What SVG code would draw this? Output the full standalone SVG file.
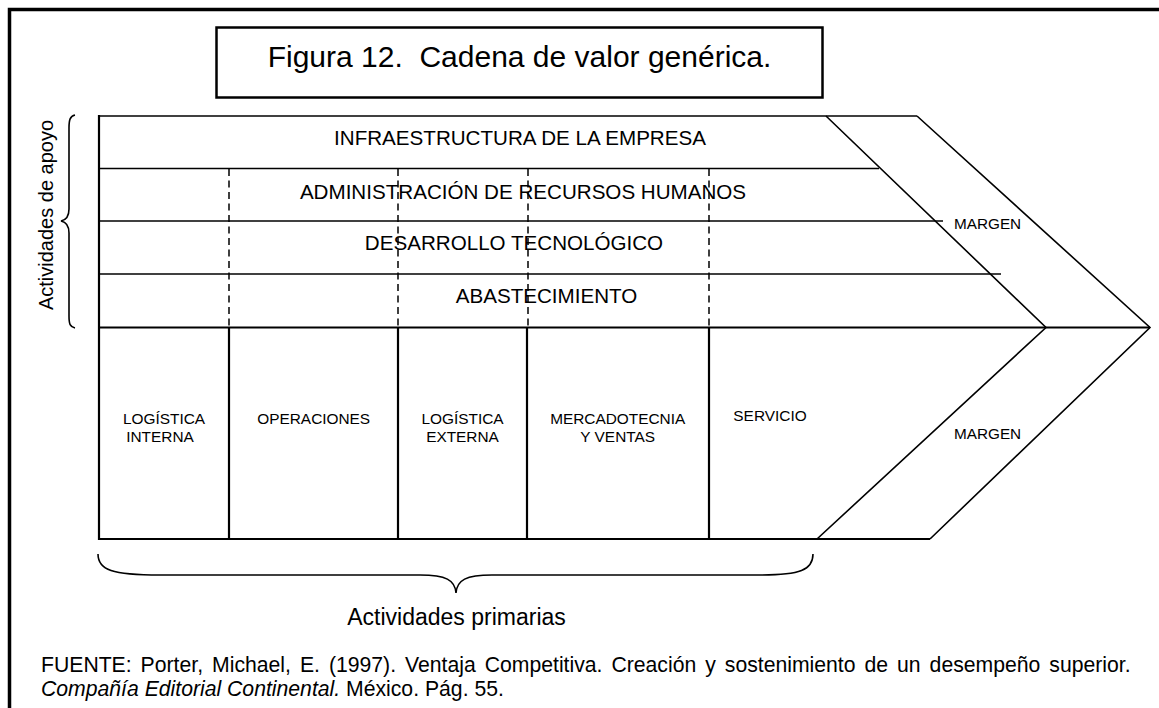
<svg xmlns="http://www.w3.org/2000/svg" width="1159" height="708" viewBox="0 0 1159 708">
<style>
  text { font-family: "Liberation Sans", Arial, sans-serif; fill: #000; }
  .row { font-size: 20.6px; text-anchor: middle; }
  .prim { font-size: 15.4px; text-anchor: middle; }
  .marg { font-size: 15.3px; }
  .src { font-size: 21.2px; }
  .ln { stroke: #000; stroke-width: 1.6; fill: none; }
  .thick { stroke: #000; stroke-width: 2.2; fill: none; }
  .dash { stroke: #000; stroke-width: 1.5; stroke-dasharray: 7 4.5; fill: none; }
</style>
<rect width="1159" height="708" fill="#fff"/>
<g id="frame">
  <path d="M9.5,720 L9.5,9.5 L1170,9.5" fill="none" stroke="#000" stroke-width="3.5"/>
</g>
<g id="title">
  <rect x="216.5" y="27.5" width="606" height="70" fill="none" stroke="#000" stroke-width="2.5"/>
  <text x="519.5" y="67" font-size="30" text-anchor="middle" xml:space="preserve">Figura 12.  Cadena de valor genérica.</text>
</g>
<g id="connectors">
  <line class="ln" x1="99" y1="116" x2="917" y2="116"/>
  <line class="ln" x1="99" y1="168.5" x2="879" y2="168.5"/>
  <line class="ln" x1="99" y1="221" x2="943" y2="221"/>
  <line class="ln" x1="99" y1="274" x2="1001" y2="274"/>
  <line class="thick" x1="99" y1="327.5" x2="1150" y2="327.5"/>
  <line class="thick" x1="99" y1="539" x2="930" y2="539"/>
  <line class="thick" x1="99" y1="115" x2="99" y2="540"/>
  <line class="dash" x1="229" y1="169" x2="229" y2="327"/>
  <line class="dash" x1="398" y1="169" x2="398" y2="327"/>
  <line class="dash" x1="528" y1="169" x2="528" y2="327"/>
  <line class="dash" x1="709" y1="169" x2="709" y2="327"/>
  <line class="thick" x1="229" y1="327" x2="229" y2="539"/>
  <line class="thick" x1="398" y1="327" x2="398" y2="539"/>
  <line class="thick" x1="527" y1="327" x2="527" y2="539"/>
  <line class="thick" x1="709" y1="327" x2="709" y2="539"/>
  <polyline class="ln" points="826,116 1046,327.5 817,539"/>
  <polyline class="ln" points="917,116 1150,327.5 930,539"/>
</g>
<g id="support-labels">
  <text class="row" x="520" y="144.5">INFRAESTRUCTURA DE LA EMPRESA</text>
  <text class="row" x="523" y="198.5">ADMINISTRACIÓN DE RECURSOS HUMANOS</text>
  <text class="row" x="514" y="249.5">DESARROLLO TECNOLÓGICO</text>
  <text class="row" x="546.5" y="302.5">ABASTECIMIENTO</text>
</g>
<g id="primary-labels">
  <text class="prim" x="164" y="423.5">LOGÍSTICA</text>
  <text class="prim" x="160" y="441.5">INTERNA</text>
  <text class="prim" x="313.7" y="424">OPERACIONES</text>
  <text class="prim" x="462.5" y="423.5">LOGÍSTICA</text>
  <text class="prim" x="462.5" y="441.5">EXTERNA</text>
  <text class="prim" x="617.7" y="423.5">MERCADOTECNIA</text>
  <text class="prim" x="617.7" y="441.5">Y VENTAS</text>
  <text class="prim" x="770" y="421">SERVICIO</text>
</g>
<g id="margin">
  <text class="marg" x="954" y="228.5">MARGEN</text>
  <text class="marg" x="954" y="439">MARGEN</text>
</g>
<g id="brace-support">
  <path class="ln" d="M75,115 C70,116 69,120 69,128 L69,209 C69,216 66,220 61,221 C66,222 69,226 69,233 L69,316 C69,324 70,327 75,328"/>
  <text x="53" y="215" font-size="20" text-anchor="middle" transform="rotate(-90 53 215)">Actividades de apoyo</text>
</g>
<g id="brace-primary">
  <path class="ln" d="M98,554 C98,570 112,575 160,575 L420,575 C446,575 455,580 456,593 C457,580 466,575 492,575 L760,575 C800,575 813,570 813,554"/>
  <text x="456.5" y="625" font-size="23" text-anchor="middle">Actividades primarias</text>
</g>
<g id="source">
  <text class="src" x="41" y="672" word-spacing="3.1">FUENTE: Porter, Michael, E. (1997). Ventaja Competitiva. Creación y sostenimiento de un desempeño superior.</text>
  <text class="src" x="41" y="696"><tspan font-style="italic">Compañía Editorial Continental.</tspan> México. Pág. 55.</text>
</g>
</svg>
